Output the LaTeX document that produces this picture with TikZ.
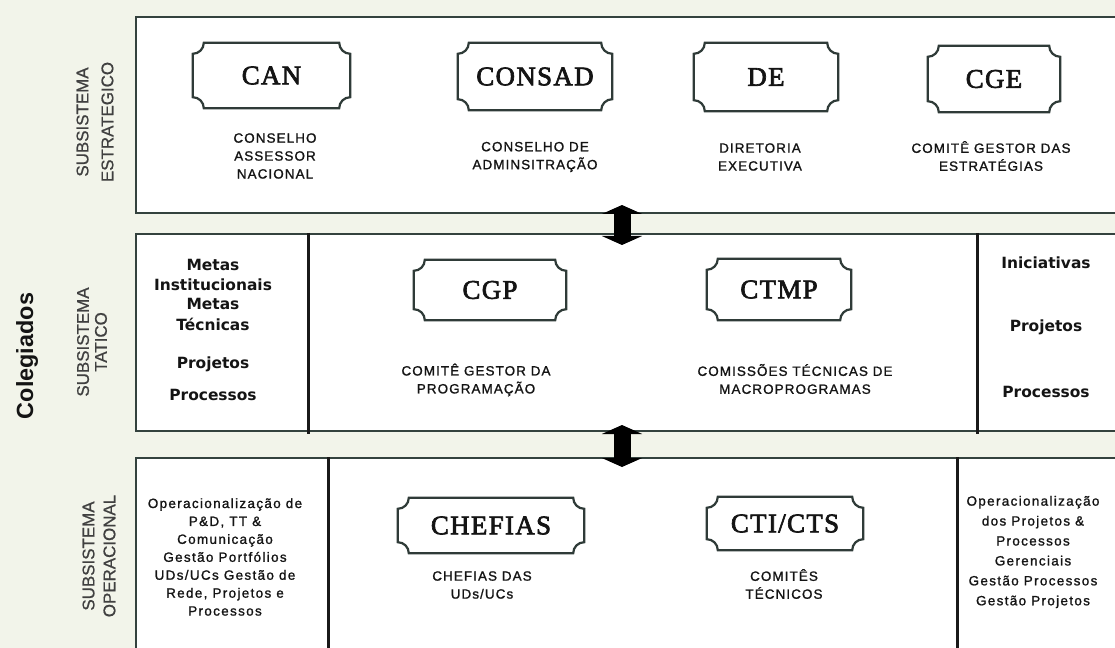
\documentclass[tikz,border=0pt]{standalone}
\usepackage{fontspec}
\setmainfont{Liberation Serif}
\setsansfont{Liberation Sans}
\newfontfamily\verdfont{DejaVu Sans}
\usetikzlibrary{calc,arrows.meta}
\definecolor{bgc}{HTML}{F2F4EA}
\definecolor{edgec}{HTML}{34423E}
\definecolor{txtc}{HTML}{141414}
\def\pr{11bp}
\newcommand\plaqueoutline[1]{\draw[plaqueline] let \p1=(#1.south west), \p2=(#1.north east) in
  (\x1+\pr,\y2) -- (\x2-\pr,\y2) arc[start angle=180,end angle=270,radius=\pr]
  -- (\x2,\y1+\pr) arc[start angle=90,end angle=180,radius=\pr]
  -- (\x1+\pr,\y1) arc[start angle=0,end angle=90,radius=\pr]
  -- (\x1,\y2-\pr) arc[start angle=270,end angle=360,radius=\pr] -- cycle;}
\tikzset{
  bigbox/.style={draw=edgec, line width=2.4bp, fill=white, anchor=north west, inner sep=0},
  divider/.style={draw=black!90, line width=3bp},
  plaquetext/.style={font=\rmfamily\fontsize{27}{30}\selectfont\addfontfeature{LetterSpace=5,FakeBold=2.5}, text=txtc, inner sep=0},
  plaqueline/.style={draw=edgec!90!black, line width=2.2bp},
  lab/.style={font=\sffamily\fontsize{13.5}{18}\selectfont\addfontfeature{LetterSpace=8,FakeBold=1.2}, align=center, text=txtc, inner sep=0},
  boldlab/.style={font=\verdfont\bfseries\fontsize{15.5}{19}\selectfont, text=txtc, inner sep=0},
  sidelab/.style={font=\sffamily\fontsize{17}{25}\selectfont\addfontfeature{FakeBold=0.8}, rotate=90, align=center, text=black!75, inner sep=0},
  blockarrow/.style={line width=17bp, draw=black, {Triangle[width=40bp,length=9bp]}-{Triangle[width=40bp,length=9bp]}},
}
\begin{document}
\begin{tikzpicture}[x=1bp,y=1bp]
\useasboundingbox (0,0) rectangle (1115,-648);
\fill[bgc] (0,0) rectangle (1115,-648);
\clip (0,0) rectangle (1115,-648);

% big boxes
\node[bigbox, minimum width=1000bp, minimum height=196bp] (estr) at (135,-16) {};
\node[bigbox, minimum width=1000bp, minimum height=197bp] (tat) at (135,-233) {};
\node[bigbox, minimum width=1000bp, minimum height=220bp] (oper) at (135,-457) {};

% dividers
\draw[divider] (308,-233) -- (308,-434);
\draw[divider] (977,-233) -- (977,-434);
\draw[divider] (328,-457) -- (328,-650);
\draw[divider] (957,-457) -- (957,-650);

% side labels
\node[font=\sffamily\bfseries\fontsize{23.5}{28}\selectfont, rotate=90, text=txtc, inner sep=0] (coleg) at (27,-356) {Colegiados};
\node[sidelab] (lestr) at (95,-122) {SUBSISTEMA\\ESTRATEGICO};
\node[sidelab, font=\sffamily\fontsize{17}{18}\selectfont\addfontfeature{FakeBold=0.8}] (ltat) at (92,-342) {SUBSISTEMA\\TATICO};
\node[sidelab, font=\sffamily\fontsize{17}{21}\selectfont\addfontfeature{FakeBold=0.8}] (loper) at (99,-556) {SUBSISTEMA\\OPERACIONAL};

% strategic plaques
\node[plaquetext, minimum width=157bp, minimum height=65bp] (can) at (271.5,-75.5) {CAN};
\node[plaquetext, minimum width=154bp, minimum height=67bp] (consad) at (535,-76.5) {CONSAD};
\node[plaquetext, minimum width=144bp, minimum height=68bp] (de) at (766,-77) {DE};
\node[plaquetext, minimum width=132bp, minimum height=66bp] (cge) at (994,-79) {CGE};
\plaqueoutline{can}
\plaqueoutline{consad}
\plaqueoutline{de}
\plaqueoutline{cge}
\node[lab] (lcan) at (275,-156) {CONSELHO\\ASSESSOR\\NACIONAL};
\node[lab] (lconsad) at (535,-157) {CONSELHO DE\\ADMINSITRAÇÃO};
\node[lab] (lde) at (760,-157) {DIRETORIA\\EXECUTIVA};
\node[lab] (lcge) at (991,-156) {COMITÊ GESTOR DAS\\ESTRATÉGIAS};

% tactical
\node[plaquetext, minimum width=152bp, minimum height=60bp] (cgp) at (490,-290) {CGP};
\node[plaquetext, minimum width=144bp, minimum height=61bp] (ctmp) at (779,-289.5) {CTMP};
\plaqueoutline{cgp}
\plaqueoutline{ctmp}
\node[lab] (lcgp) at (476,-380) {COMITÊ GESTOR DA\\PROGRAMAÇÃO};
\node[lab] (lctmp) at (795,-379) {COMISSÕES TÉCNICAS DE\\MACROPROGRAMAS};

\node[boldlab] (m1) at (213,-265) {Metas};
\node[boldlab] (m2) at (213,-285) {Institucionais};
\node[boldlab] (m3) at (213,-304) {Metas};
\node[boldlab] (m4) at (213,-324) {Técnicas};
\node[boldlab] (m5) at (213,-364) {Projetos};
\node[boldlab] (m6) at (213,-395) {Processos};

\node[boldlab] (r1) at (1046,-263) {Iniciativas};
\node[boldlab] (r2) at (1046,-327) {Projetos};
\node[boldlab] (r3) at (1046,-392) {Processos};

% operational
\node[plaquetext, minimum width=186bp, minimum height=55bp] (chefias) at (491,-525.5) {CHEFIAS};
\node[plaquetext, minimum width=156bp, minimum height=53bp] (cti) at (785,-523.5) {CTI/CTS};
\plaqueoutline{chefias}
\plaqueoutline{cti}
\node[lab] (lchef) at (482,-585) {CHEFIAS DAS\\UDs/UCs};
\node[lab] (lcti) at (784,-584) {COMITÊS\\TÉCNICOS};

\node[lab, font=\sffamily\fontsize{13.5}{18}\selectfont\addfontfeature{LetterSpace=10,FakeBold=1.2}] (opl) at (225,-557) {Operacionalização de\\P\&D, TT \&\\Comunicação\\Gestão Portfólios\\UDs/UCs Gestão de\\Rede, Projetos e\\Processos};
\node[lab, font=\sffamily\fontsize{13.5}{20}\selectfont\addfontfeature{LetterSpace=10,FakeBold=1.2}] (opr) at (1033,-552) {Operacionalização\\dos Projetos \&\\Processos\\Gerenciais\\Gestão Processos\\Gestão Projetos};

% block arrows
\coordinate (a1t) at (622,-205);
\coordinate (a1b) at (622,-245);
\coordinate (a2t) at (622,-425);
\coordinate (a2b) at (622,-467);
\draw[blockarrow] (a1t) -- (a1b);
\draw[blockarrow] (a2t) -- (a2b);
\end{tikzpicture}
\end{document}
